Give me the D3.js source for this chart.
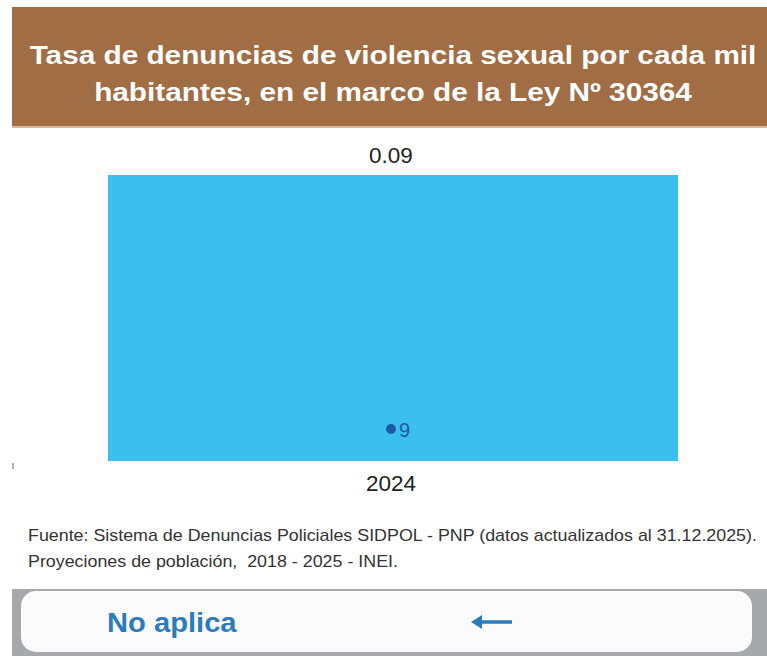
<!DOCTYPE html>
<html lang="es">
  <head>
    <meta charset="UTF-8" />
    <script src="https://cdn.jsdelivr.net/npm/d3@7"></script>
    <style>
      body { margin: 0; background: #fff; }
      svg { display: block; font-family: "Liberation Sans", Arial, sans-serif; }
      text { white-space: pre; }
    </style>
  </head>
  <body>
    <div id="fig"></div>
    <script>
      // data
      const years = ["2024"];
      const rates = [0.09];
      const legendLabels = ["9"];
      const titleLines = [
        "Tasa de denuncias de violencia sexual por cada mil",
        "habitantes, en el marco de la Ley Nº 30364",
      ];
      const sourceLines = [
        "Fuente: Sistema de Denuncias Policiales SIDPOL - PNP (datos actualizados al 31.12.2025).",
        "Proyeciones de población,  2018 - 2025 - INEI.",
      ];
      const footerLabel = "No aplica";

      const width = 767, height = 656;
      const svg = d3.select("#fig").append("svg")
        .attr("width", width).attr("height", height);

      // header band
      svg.append("rect").attr("x", 12).attr("y", 7).attr("width", width - 12).attr("height", 120)
        .attr("fill", "#a06d45");
      svg.append("rect").attr("x", 12).attr("y", 126).attr("width", width - 12).attr("height", 2)
        .attr("fill", "#d9b9a0");
      // the source picture is a bit stretched sideways, so scale text in x
      svg.append("g").attr("transform", "translate(393,0) scale(1.19,1)")
        .selectAll("text").data(titleLines).join("text")
        .attr("x", 0).attr("y", (d, i) => 64 + i * 37)
        .attr("text-anchor", "middle")
        .attr("fill", "#fff").attr("font-weight", "bold").attr("font-size", 25)
        .text(d => d);

      // chart
      const x = d3.scaleBand().domain(years).range([108, 678]).padding(0);
      const y = d3.scaleLinear().domain([0, 0.09]).range([461, 175]);

      svg.selectAll("rect.bar").data(rates).join("rect")
        .attr("class", "bar")
        .attr("x", (d, i) => x(years[i]))
        .attr("y", d => y(d))
        .attr("width", x.bandwidth())
        .attr("height", d => y(0) - y(d))
        .attr("fill", "#3bbfef");

      svg.selectAll("text.val").data(rates).join("text")
        .attr("class", "val")
        .attr("x", (d, i) => x(years[i]) + x.bandwidth() / 2 - 2)
        .attr("y", d => y(d) - 12)
        .attr("text-anchor", "middle").attr("font-size", 22.5).attr("fill", "#222")
        .text(d => d3.format(".2f")(d));

      const xAxis = svg.append("g").attr("transform", `translate(-2,${y(0)})`)
        .call(d3.axisBottom(x).tickSize(0).tickPadding(14));
      xAxis.select(".domain").remove();
      xAxis.selectAll("text").attr("font-size", 22.5).attr("fill", "#222")
        .attr("font-family", "Liberation Sans, Arial, sans-serif");

      // stray axis tick on the left
      svg.append("line").attr("x1", 13).attr("x2", 13).attr("y1", y(0) + 2).attr("y2", y(0) + 8)
        .attr("stroke", "#999").attr("stroke-width", 1.5);

      // legend inside bar
      const lg = svg.append("g").attr("transform", `translate(${x(years[0]) + x.bandwidth() / 2},429)`);
      lg.append("circle").attr("cx", -2).attr("cy", 0).attr("r", 5).attr("fill", "#1b5aa5");
      lg.append("text").attr("x", 6).attr("y", 8).attr("font-size", 20).attr("fill", "#1b5aa5")
        .text(legendLabels[0]);

      // source
      svg.append("g").attr("transform", "translate(28,0) scale(1.05,1)")
        .selectAll("text").data(sourceLines).join("text")
        .attr("x", 0).attr("y", (d, i) => 541 + i * 26)
        .attr("font-size", 17).attr("fill", "#333")
        .text(d => d);

      // footer button
      svg.append("rect").attr("x", 12).attr("y", 589).attr("width", width - 12).attr("height", height - 589)
        .attr("fill", "#a7a8ab");
      svg.append("rect").attr("x", 21).attr("y", 591).attr("width", 731).attr("height", 61)
        .attr("rx", 15).attr("fill", "#fbfbfb");
      svg.append("text").attr("transform", "translate(107,632) scale(1.06,1)")
        .attr("font-size", 27.5).attr("font-weight", "bold").attr("fill", "#2b7bbd")
        .text(footerLabel);
      const arrow = svg.append("g").attr("fill", "#2b7bbd").attr("stroke", "#2b7bbd");
      arrow.append("line").attr("x1", 478).attr("x2", 512).attr("y1", 622).attr("y2", 622)
        .attr("stroke-width", 3.5);
      arrow.append("path").attr("d", "M471,622 L482,615 L482,629 Z").attr("stroke", "none");
    </script>
  </body>
</html>
